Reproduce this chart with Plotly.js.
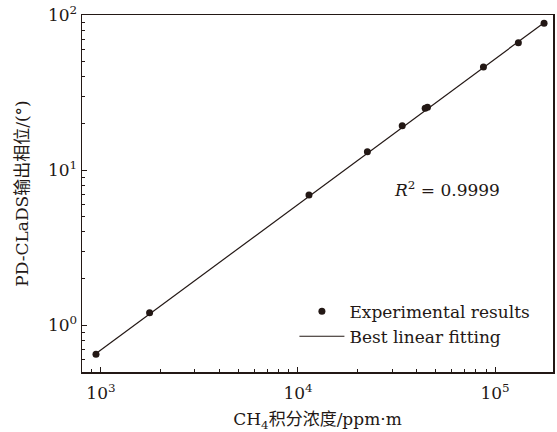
<!DOCTYPE html>
<html>
<head>
<meta charset="utf-8">
<script src="https://cdn.plot.ly/plotly-3.0.1.min.js"></script>
<style>
  html, body { margin: 0; padding: 0; background: #ffffff; }
  #chart { width: 557px; height: 432px; }
</style>
</head>
<body>
<div id="chart"></div>
<script>
// ---- data ----
const concentration = [944, 1766, 11370, 22500, 33800, 44200, 45400, 87300, 131300, 177300];
const phase = [0.647, 1.20, 6.90, 13.1, 19.3, 25.0, 25.4, 46.2, 66.2, 88.4];
const fitX = [930, 178000];
const fitY = [0.645, 89.5];
const xTickVals = [1e3, 1e4, 1e5];
const xTickText = ['10<sup>3</sup>', '10<sup>4</sup>', '10<sup>5</sup>'];
const yTickVals = [1, 10, 100];
const yTickText = ['10<sup>0</sup>', '10<sup>1</sup>', '10<sup>2</sup>'];
const seriesNames = ['Experimental results', 'Best linear fitting'];
const r2Label = '<i>R</i><sup>2</sup> = 0.9999';
const xTitle = 'CH<sub>4</sub>积分浓度/ppm·m';
const yTitle = 'PD-CLaDS输出相位/(°)';

// minor tick positions (axis decoration)
function minorTicks(fromExp, toExp) {
  const out = [];
  for (let e = fromExp; e <= toExp; e++) {
    for (let m = 2; m <= 9; m++) out.push(m * Math.pow(10, e));
  }
  return out;
}

const ink = '#231815';
const fontFamily = '"DejaVu Serif", "Noto Sans CJK SC", serif';

const traces = [
  {
    x: concentration, y: phase, name: seriesNames[0],
    type: 'scatter', mode: 'markers',
    marker: { color: ink, size: 7 }
  },
  {
    x: fitX, y: fitY, name: seriesNames[1],
    type: 'scatter', mode: 'lines',
    line: { color: ink, width: 1.2 }
  }
];

const axisCommon = {
  type: 'log', showgrid: false, zeroline: false,
  showline: true, linecolor: ink, linewidth: 1.5, mirror: true,
  ticks: 'inside', ticklen: 5, tickwidth: 1, tickcolor: ink,
  tickmode: 'array', tickfont: { family: fontFamily, size: 17, color: ink }
};

const layout = {
  width: 557, height: 432,
  margin: { l: 82, r: 4, t: 15, b: 60 },
  paper_bgcolor: '#ffffff', plot_bgcolor: '#ffffff',
  font: { family: fontFamily, color: ink, size: 17 },
  showlegend: true,
  xaxis: Object.assign({}, axisCommon, {
    range: [2.904, 5.294],
    tickvals: xTickVals, ticktext: xTickText,
    ticklabelstandoff: 5,
    minor: { tickmode: 'array', tickvals: minorTicks(2, 5), ticks: 'inside', ticklen: 3, tickwidth: 1, tickcolor: ink, showgrid: false },
    title: { text: xTitle, font: { family: fontFamily, size: 17, color: ink }, standoff: 14 }
  }),
  yaxis: Object.assign({}, axisCommon, {
    range: [-0.303, 2.0],
    tickvals: yTickVals, ticktext: yTickText,
    minor: { tickmode: 'array', tickvals: minorTicks(-1, 1), ticks: 'inside', ticklen: 3, tickwidth: 1, tickcolor: ink, showgrid: false },
    title: { text: yTitle, font: { family: fontFamily, size: 17, color: ink }, standoff: 15 }
  }),
  legend: {
    x: 0.451, y: 0.2196, xanchor: 'left', yanchor: 'top',
    bgcolor: 'rgba(0,0,0,0)', borderwidth: 0,
    itemwidth: 45, tracegroupgap: 0,
    font: { family: fontFamily, size: 17, color: ink }
  },
  annotations: [
    {
      xref: 'paper', yref: 'paper', x: 0.775, y: 0.513,
      xanchor: 'center', yanchor: 'middle',
      text: r2Label, showarrow: false,
      font: { family: fontFamily, size: 17, color: ink }
    }
  ]
};

Plotly.newPlot('chart', traces, layout, { displayModeBar: false, staticPlot: true });
</script>
</body>
</html>
